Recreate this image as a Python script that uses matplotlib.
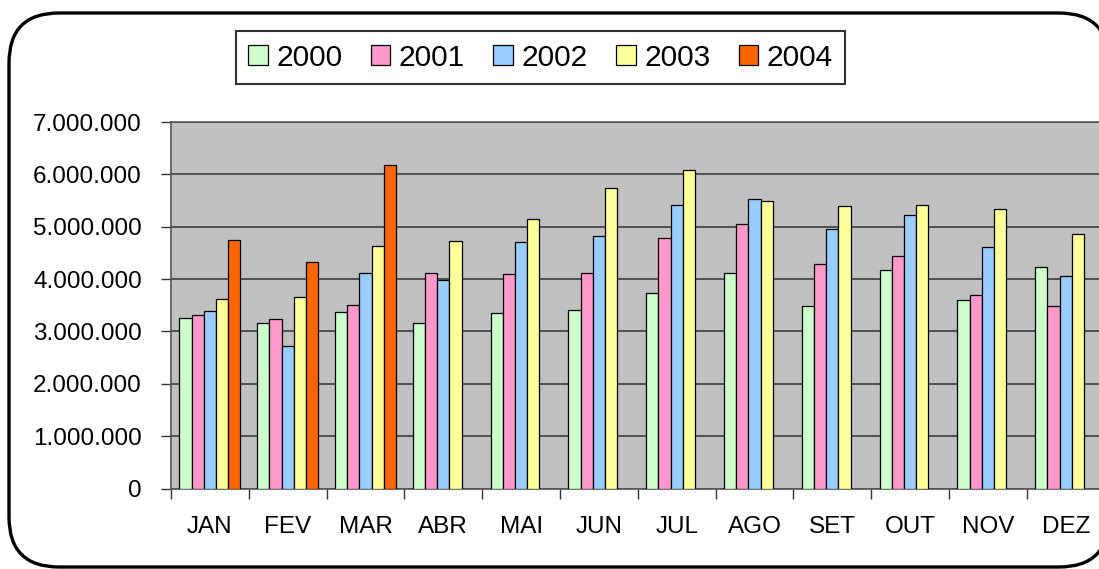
import matplotlib
matplotlib.use("Agg")
import matplotlib.pyplot as plt
import matplotlib.ticker as mticker
from matplotlib.patches import FancyBboxPatch
from matplotlib.transforms import IdentityTransform
import numpy as np

plt.rcParams['font.family'] = ['Liberation Sans', 'DejaVu Sans']

# data
months = ["JAN", "FEV", "MAR", "ABR", "MAI", "JUN", "JUL", "AGO", "SET", "OUT", "NOV", "DEZ"]
years = ["2000", "2001", "2002", "2003", "2004"]
v2000 = [3260000, 3160000, 3380000, 3160000, 3350000, 3410000, 3740000, 4120000, 3490000, 4180000, 3600000, 4230000]
v2001 = [3320000, 3230000, 3510000, 4120000, 4090000, 4120000, 4790000, 5060000, 4280000, 4440000, 3690000, 3490000]
v2002 = [3390000, 2730000, 4110000, 3990000, 4700000, 4820000, 5410000, 5530000, 4950000, 5220000, 4610000, 4050000]
v2003 = [3610000, 3650000, 4630000, 4720000, 5150000, 5730000, 6090000, 5490000, 5400000, 5410000, 5340000, 4870000]
v2004 = [4740000, 4320000, 6170000, None, None, None, None, None, None, None, None, None]

series = [v2000, v2001, v2002, v2003, v2004]
colors = ["#CCFFCC", "#FF99CC", "#99CCFF", "#FFFF99", "#FF6600"]

fig = plt.figure(figsize=(10.99, 5.69), dpi=100)

# rounded outer frame (in pixels, runs off the right edge like the original)
frame = FancyBboxPatch((9 + 50, 2 + 50), 1100 - 100, 554 - 100,
                       boxstyle="round,pad=50", transform=IdentityTransform(),
                       facecolor="white", edgecolor="black", linewidth=2.4, zorder=-5)
fig.patches.append(frame)

ax = fig.add_axes([171 / 1099, 80.5 / 569, 933.6 / 1099, 366.5 / 569])
ax.set_zorder(2)
ax.set_facecolor("#C0C0C0")

w = 0.157
x = np.arange(len(months)) + 0.5
for i, (yr, vals, col) in enumerate(zip(years, series, colors)):
    h = [np.nan if v is None else v for v in vals]
    ax.bar(x + (i - 2) * w, h, width=w, color=col, edgecolor="black",
           linewidth=0.9, label=yr, zorder=3)

ax.set_xlim(0, 12)
ax.set_ylim(0, 7000000)
ax.yaxis.set_major_locator(mticker.MultipleLocator(1000000))
ax.yaxis.set_major_formatter(mticker.FuncFormatter(lambda v, p: f"{int(v):,}".replace(",", ".")))
ax.grid(axis="y", color="#333333", linewidth=1.1, zorder=1)

ax.set_xticks(x)
ax.set_xticklabels(months)
ax.set_xticks(np.arange(0, 13), minor=True)
ax.tick_params(axis="x", which="major", length=0, pad=20, labelsize=17.5)
ax.tick_params(axis="x", which="minor", length=7, width=1, color="#333333", direction="out")
ax.tick_params(axis="y", length=7, width=1, color="#333333", pad=14, labelsize=17.5)

for side in ["left", "bottom", "top"]:
    ax.spines[side].set_color("#555555")
    ax.spines[side].set_linewidth(1.2)
ax.spines["right"].set_visible(False)

leg = fig.legend(loc="center", bbox_to_anchor=(540.5 / 1099, 1 - 57.5 / 569), ncol=5,
                 fontsize=21.5, frameon=True, fancybox=False, edgecolor="black",
                 handlelength=0.66, handleheight=0.66, handletextpad=0.28,
                 columnspacing=0.95, borderpad=0.42)
leg.get_frame().set_linewidth(1.5)

fig.savefig("out.png", dpi=100)
